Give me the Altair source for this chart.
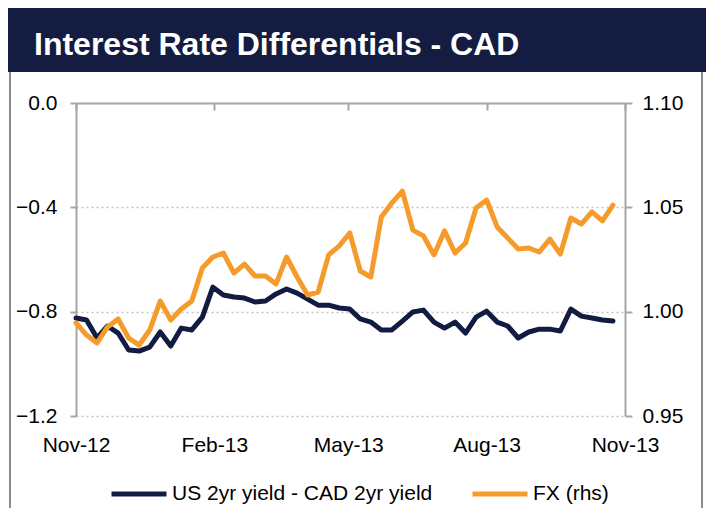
import altair as alt
import pandas as pd

TITLE = "Interest Rate Differentials - CAD"
SERIES = ["US 2yr yield - CAD 2yr yield", "FX (rhs)"]
COLORS = ["#121c43", "#f59b2c"]

# weekly observations, Nov-2012 .. Oct-2013
DATES = pd.date_range("2012-11-01", periods=52, freq="7D")

SPREAD = [-0.824, -0.832, -0.901, -0.855, -0.882, -0.947, -0.951, -0.936, -0.878, -0.932,
          -0.863, -0.870, -0.821, -0.706, -0.736, -0.744, -0.748, -0.763, -0.759, -0.732,
          -0.713, -0.729, -0.752, -0.775, -0.775, -0.786, -0.790, -0.828, -0.840, -0.870,
          -0.870, -0.836, -0.801, -0.794, -0.840, -0.863, -0.840, -0.882, -0.821, -0.798,
          -0.840, -0.855, -0.901, -0.878, -0.867, -0.867, -0.874, -0.790, -0.817, -0.824,
          -0.832, -0.836]

FX = [0.9946, 0.9888, 0.9850, 0.9927, 0.9965, 0.9874, 0.9840, 0.9912, 1.0051, 0.9960,
      1.0013, 1.0051, 1.0209, 1.0262, 1.0281, 1.0185, 1.0228, 1.0171, 1.0171, 1.0133,
      1.0262, 1.0166, 1.0080, 1.0094, 1.0272, 1.0315, 1.0377, 1.0195, 1.0166, 1.0454,
      1.0521, 1.0578, 1.0391, 1.0363, 1.0272, 1.0387, 1.0281, 1.0329, 1.0497, 1.0535,
      1.0406, 1.0353, 1.0300, 1.0305, 1.0286, 1.0348, 1.0276, 1.0449, 1.0420, 1.0478,
      1.0435, 1.0511]

LEFT_TICKS = [-1.2, -0.8, -0.4, 0.0]
RIGHT_TICKS = [0.95, 1.00, 1.05, 1.10]
X_TICKS = [(2012, 11), (2013, 2), (2013, 5), (2013, 8), (2013, 11)]

W, H = 549, 313
FONT = "Liberation Sans"
AXC = "#a6a6a6"

df_spread = pd.DataFrame({"date": DATES, "value": SPREAD, "series": SERIES[0]})
df_fx = pd.DataFrame({"date": DATES, "value": FX, "series": SERIES[1]})

x_enc = alt.X(
    "date:T",
    scale=alt.Scale(domain=[alt.DateTime(year=2012, month=11, date=1),
                            alt.DateTime(year=2013, month=11, date=1)]),
    axis=alt.Axis(
        title=None, orient="bottom", offset=-H,
        values=[alt.DateTime(year=y, month=m, date=1) for y, m in X_TICKS],
        format="%b-%y", formatType="time",
        domain=True, domainColor=AXC, domainWidth=2,
        ticks=True, tickColor=AXC, tickWidth=2, tickSize=7,
        labelPadding=H + 11, labelFont=FONT, labelFontSize=21, labelColor="black",
        labelFlush=False, labelOverlap=False, labelBound=False, grid=False,
    ),
)

color_enc = alt.Color(
    "series:N",
    scale=alt.Scale(domain=SERIES, range=COLORS),
    legend=alt.Legend(
        title=None, orient="none", legendX=33, legendY=361, direction="horizontal",
        symbolType="stroke", symbolSize=3025, symbolStrokeWidth=5,
        labelFont=FONT, labelFontSize=21, labelColor="black", labelOffset=3,
        labelLimit=600, columnPadding=29, padding=0,
    ),
)

line_spread = alt.Chart(df_spread).mark_line(strokeWidth=5, strokeJoin="round", strokeCap="round").encode(
    x=x_enc,
    y=alt.Y("value:Q", scale=alt.Scale(domain=[-1.2, 0.0], nice=False, zero=False),
            axis=alt.Axis(title=None, orient="left", values=LEFT_TICKS, format=".1f",
                          domain=True, domainColor=AXC, domainWidth=2,
                          ticks=True, tickColor=AXC, tickWidth=2, tickSize=6,
                          labelPadding=13, labelFont=FONT, labelFontSize=21, labelColor="black",
                          grid=True, gridColor="#c4c4c4", gridDash=[2, 3], gridWidth=1.5)),
    color=color_enc,
)

line_fx = alt.Chart(df_fx).mark_line(strokeWidth=5, strokeJoin="round", strokeCap="round").encode(
    x=x_enc,
    y=alt.Y("value:Q", scale=alt.Scale(domain=[0.95, 1.10], nice=False, zero=False),
            axis=alt.Axis(title=None, orient="right", values=RIGHT_TICKS, format=".2f",
                          domain=True, domainColor=AXC, domainWidth=2,
                          ticks=True, tickColor=AXC, tickWidth=2, tickSize=7,
                          labelPadding=10, labelFont=FONT, labelFontSize=21, labelColor="black",
                          grid=False)),
    color=color_enc,
)

deco = pd.DataFrame({"title": [TITLE]})

title_bar = alt.Chart(deco).mark_rect(color="#141c42").encode(
    x=alt.value(-68), x2=alt.value(630), y=alt.value(-95), y2=alt.value(-31)
)
title_text = alt.Chart(deco).mark_text(
    align="left", baseline="alphabetic", color="white",
    font=FONT, fontWeight="bold", fontSize=32,
).encode(text="title:N", x=alt.value(-42), y=alt.value(-48))

border_left = alt.Chart(deco).mark_rule(color="#8c8c8c", strokeWidth=2).encode(
    x=alt.value(-66), y=alt.value(-31), y2=alt.value(405)
)
border_right = alt.Chart(deco).mark_rule(color="#8c8c8c", strokeWidth=2).encode(
    x=alt.value(626), y=alt.value(-31), y2=alt.value(405)
)

chart = alt.layer(
    title_bar, border_left, border_right, title_text, line_spread, line_fx
).resolve_scale(
    y="independent"
).properties(
    width=W, height=H,
    autosize=alt.AutoSizeParams(type="none"),
    padding={"left": 68, "top": 95, "right": 81, "bottom": 92},
    background="white",
).configure_view(stroke=None)

chart.save("out.html", embed_options={"renderer": "svg", "actions": False})
